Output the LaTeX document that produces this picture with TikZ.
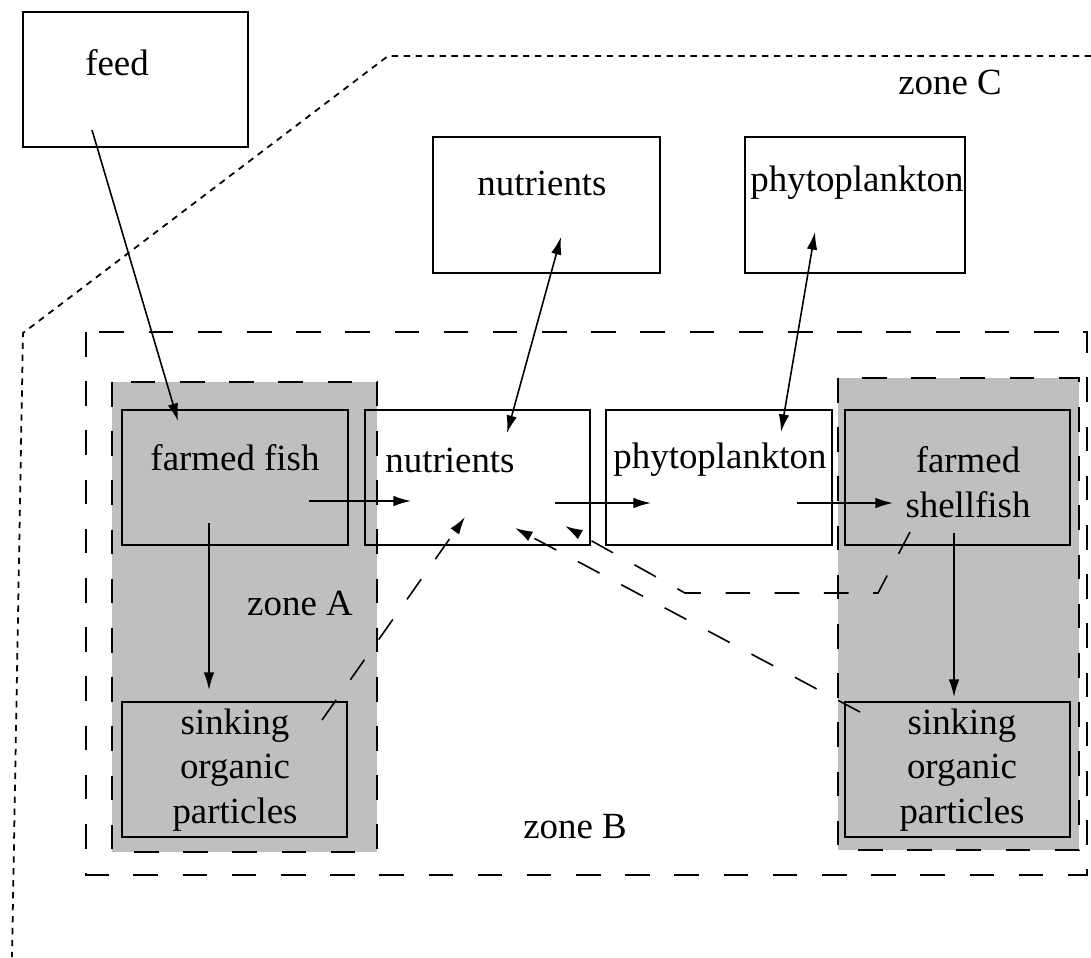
\documentclass[tikz,border=0pt]{standalone}
\usepackage{fontspec}
\setmainfont{Liberation Serif}
\usetikzlibrary{arrows.meta}

\tikzset{
    box/.style={draw, line width=1pt, minimum width=4.5cm, minimum height=2.7cm, inner sep=0pt},
    txt/.style={font=\fontsize{21}{25.5}\selectfont, align=center, inner sep=0pt},
    zone/.style={line width=1.1pt, dash pattern=on 14pt off 14pt},
    zonec/.style={line width=1pt, dash pattern=on 3.6pt off 3.2pt},
    flow/.style={line width=0.9pt, -{Latex[length=10pt,width=6pt]}},
    back/.style={flow, dash pattern=on 14pt off 14pt},
}

\begin{document}
\begin{tikzpicture}[x=0.02cm, y=-0.02cm]
    \useasboundingbox (0,0) rectangle (1091,957);

    % zones
    \draw[zonec] (1091,56) -- (388,56) -- (23,333) -- (12,957);
    \draw[zone, fill=gray!50] (112,382) rectangle (377,852);
    \draw[zone, fill=gray!50] (838,378) rectangle (1079,850);
    \draw[zone] (86,332) rectangle (1087,875);
    \node[txt] (zoneA) at (300,603) {zone A};
    \node[txt] (zoneB) at (575,827) {zone B};
    \node[txt] (zoneC) at (950,82) {zone C};

    % boxes
    \node[box] (feed) at (135.5,79.5) {};
    \node[box, minimum width=4.54cm, minimum height=2.72cm] (nutC) at (546.5,205) {};
    \node[box, minimum width=4.4cm, minimum height=2.72cm] (phyC) at (855,205) {};
    \node[box, minimum width=4.52cm] (fish) at (235,477.5) {};
    \node[box] (nutB) at (477.5,477.5) {};
    \node[box, minimum width=4.52cm] (phyB) at (719,477.5) {};
    \node[box] (shell) at (957.5,477.5) {};
    \node[box] (sinkA) at (234.5,769.5) {};
    \node[box] (sinkS) at (957.5,769.5) {};

    % texts
    \node[txt] (feedtxt) at (117,63) {feed};
    \node[txt] (nutCtxt) at (542,183) {nutrients};
    \node[txt] (phyCtxt) at (857,183) {phytoplankton};
    \node[txt] (fishtxt) at (235,458) {farmed fish};
    \node[txt] (nutBtxt) at (450,460) {nutrients};
    \node[txt] (phyBtxt) at (720,460) {phytoplankton};
    \node[txt] (shelltxt) at (968,482) {farmed\\shellfish};
    \node[txt] (sinkAtxt) at (235,770) {sinking\\organic\\particles};
    \node[txt] (sinkStxt) at (962,770) {sinking\\organic\\particles};

    % arrow ends
    \foreach \n/\x/\y in {feedout/92/130, fishin/178/421, nutup/561/237, nutdown/507/433,
                          phyup/815/232, phydown/781/432, fishout/309/501, nutin/411/501,
                          nutout/555/503, phyin/651/503, phyout/797/503, shellin/893/503,
                          fishdown/209/523, sinkAin/209/690, shelldown/954/533, sinkSin/954/697,
                          sinkAout/322/720, nutret1/465/517, sinkSout/860/712, nutret2/515/528,
                          shellout/910/532, bendA/878/593, bendB/685/593, nutret3/565/526} {
        \coordinate (\n) at (\x,\y);
    }

    % flows
    \draw[flow] (feedout) -- (fishin);
    \draw[flow, {Latex[length=10pt,width=6pt]}-{Latex[length=10pt,width=6pt]}] (nutup) -- (nutdown);
    \draw[flow, {Latex[length=10pt,width=6pt]}-{Latex[length=10pt,width=6pt]}] (phyup) -- (phydown);
    \draw[flow] (fishout) -- (nutin);
    \draw[flow] (nutout) -- (phyin);
    \draw[flow] (phyout) -- (shellin);
    \draw[flow] (fishdown) -- (sinkAin);
    \draw[flow] (shelldown) -- (sinkSin);
    \draw[back] (sinkAout) -- (nutret1);
    \draw[back] (sinkSout) -- (nutret2);
    \draw[back] (shellout) -- (bendA) -- (bendB) -- (nutret3);
\end{tikzpicture}
\end{document}
